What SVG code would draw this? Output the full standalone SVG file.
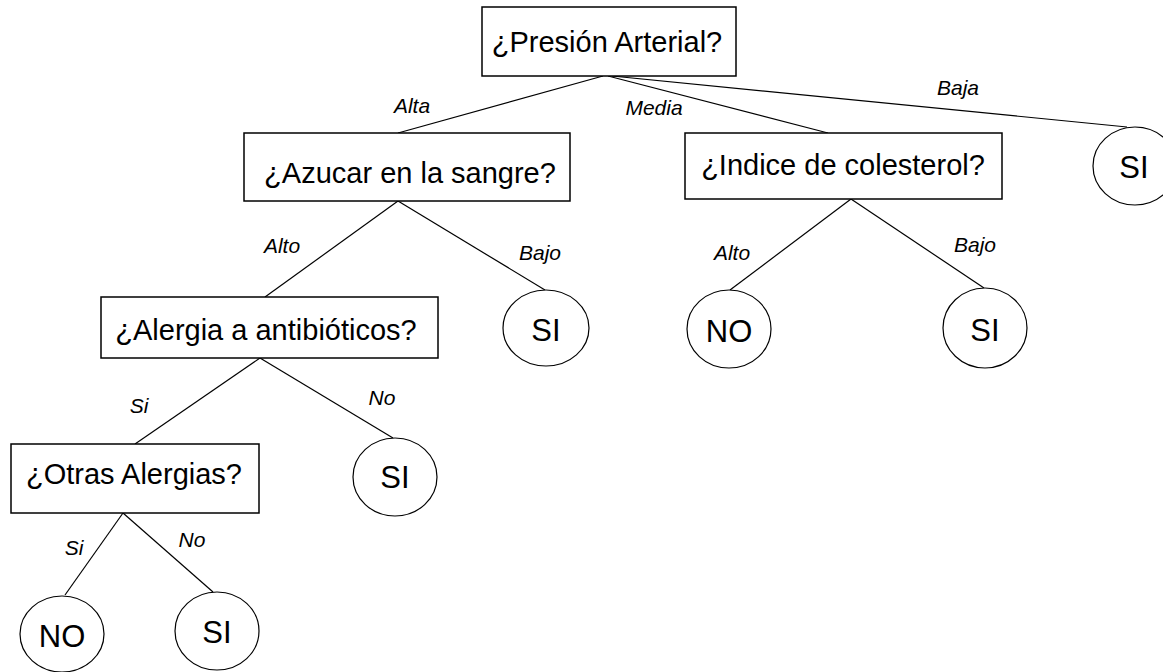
<svg xmlns="http://www.w3.org/2000/svg" width="1163" height="672" viewBox="0 0 1163 672">
<style>
.box{fill:#fff;stroke:#000;stroke-width:1.5}
.leaf{fill:#fff;stroke:#000;stroke-width:1.2}
.q{font-family:"Liberation Sans",Arial,sans-serif;font-size:29px;fill:#000;text-anchor:middle}
.a{font-family:"Liberation Sans",Arial,sans-serif;font-size:31px;fill:#000;text-anchor:middle}
.lbl{font-family:"Liberation Sans",Arial,sans-serif;font-size:21px;font-style:italic;fill:#000;text-anchor:middle}
.edge{stroke:#000;stroke-width:1.2;fill:none}
</style>
<rect width="1163" height="672" fill="#fff"/>
<g id="connectors">
<line class="edge" x1="603" y1="76" x2="398" y2="133"/>
<line class="edge" x1="608" y1="76" x2="828" y2="133"/>
<line class="edge" x1="612" y1="76" x2="1127" y2="127"/>
<line class="edge" x1="398" y1="201" x2="265" y2="297"/>
<line class="edge" x1="398" y1="201" x2="545" y2="290"/>
<line class="edge" x1="851" y1="199" x2="730" y2="290"/>
<line class="edge" x1="851" y1="199" x2="984" y2="288"/>
<line class="edge" x1="260" y1="358" x2="135" y2="444"/>
<line class="edge" x1="260" y1="358" x2="393" y2="438"/>
<line class="edge" x1="123" y1="513" x2="65" y2="595"/>
<line class="edge" x1="123" y1="513" x2="213" y2="592"/>
<text class="lbl" x="412" y="113">Alta</text>
<text class="lbl" x="654" y="115">Media</text>
<text class="lbl" x="958" y="95">Baja</text>
<text class="lbl" x="282" y="253">Alto</text>
<text class="lbl" x="540" y="260">Bajo</text>
<text class="lbl" x="732" y="260">Alto</text>
<text class="lbl" x="975" y="252">Bajo</text>
<text class="lbl" x="139" y="413">Si</text>
<text class="lbl" x="382" y="405">No</text>
<text class="lbl" x="74" y="555">Si</text>
<text class="lbl" x="192" y="547">No</text>
</g>
<g id="n-presion"><rect class="box" x="482" y="7" width="254" height="69"/><text class="q" x="607" y="52">¿Presión Arterial?</text></g>
<g id="n-azucar"><rect class="box" x="244" y="133" width="326" height="68"/><text class="q" x="410" y="183">¿Azucar en la sangre?</text></g>
<g id="n-indice"><rect class="box" x="685" y="133" width="317" height="66"/><text class="q" x="843" y="175">¿Indice de colesterol?</text></g>
<g id="n-alergia"><rect class="box" x="101" y="297" width="337" height="61"/><text class="q" x="266" y="340">¿Alergia a antibióticos?</text></g>
<g id="n-otras"><rect class="box" x="11" y="444" width="248" height="69"/><text class="q" x="134" y="484">¿Otras Alergias?</text></g>
<g id="n-si-baja"><ellipse class="leaf" cx="1135" cy="166" rx="42" ry="39"/><text class="a" x="1134" y="178">SI</text></g>
<g id="n-si-azucar"><ellipse class="leaf" cx="546" cy="328" rx="43" ry="38"/><text class="a" x="546" y="341">SI</text></g>
<g id="n-no-indice"><ellipse class="leaf" cx="729" cy="329" rx="42" ry="39"/><text class="a" x="729" y="342">NO</text></g>
<g id="n-si-indice"><ellipse class="leaf" cx="985" cy="328" rx="42" ry="40"/><text class="a" x="985" y="341">SI</text></g>
<g id="n-si-alergia"><ellipse class="leaf" cx="395" cy="477" rx="42" ry="39"/><text class="a" x="395" y="488">SI</text></g>
<g id="n-no-otras"><ellipse class="leaf" cx="62" cy="634" rx="42" ry="38"/><text class="a" x="62" y="647">NO</text></g>
<g id="n-si-otras"><ellipse class="leaf" cx="217" cy="631" rx="42" ry="39"/><text class="a" x="217" y="643">SI</text></g>
</svg>
